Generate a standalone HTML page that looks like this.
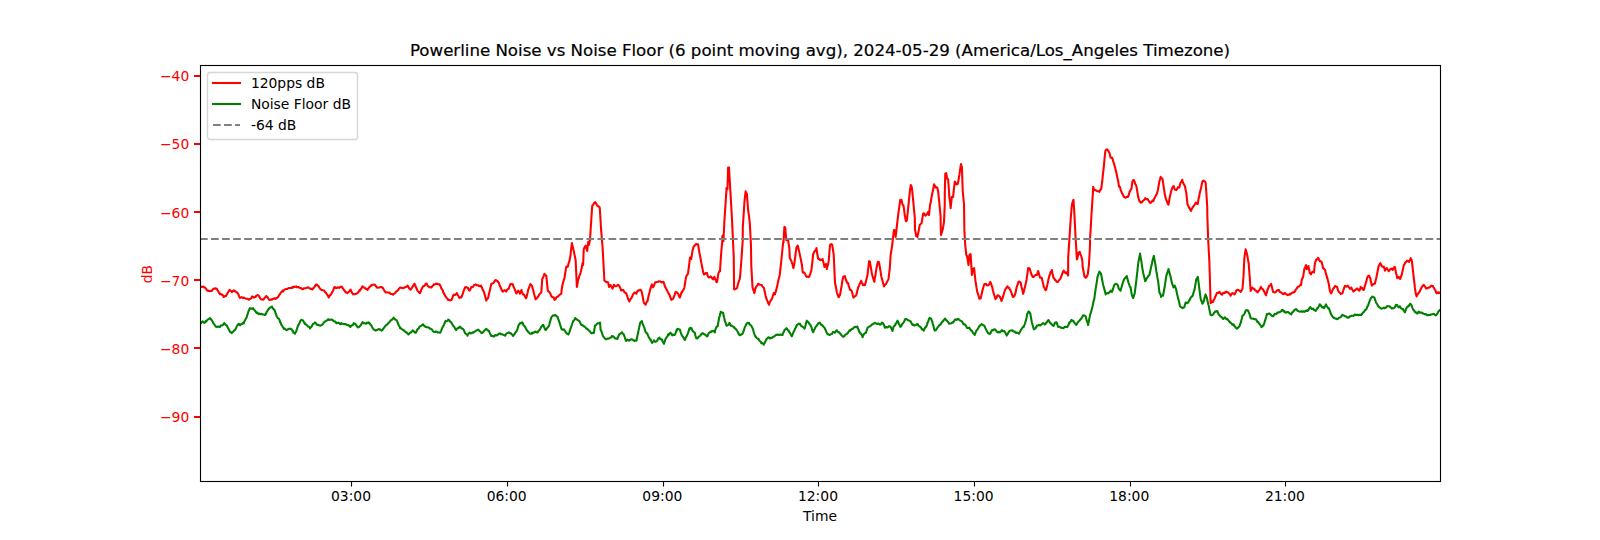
<!DOCTYPE html>
<html lang="en">
<head>
<meta charset="utf-8">
<title>Powerline Noise vs Noise Floor</title>
<style>
html,body{margin:0;padding:0;background:#fff;}
body{width:1600px;height:540px;overflow:hidden;}
svg{display:block;}
svg text{font-family:"DejaVu Sans", "Liberation Sans", sans-serif;font-size:13.889px;fill:#000;}
.t{font-size:16.667px;letter-spacing:-0.022px;stroke:#000;stroke-width:0.2px;}
.r{fill:#f00;}
.m{text-anchor:middle;}
.e{text-anchor:end;}
</style>
</head>
<body>
<svg width="1600" height="540" viewBox="0 0 1600 540">
<rect x="0" y="0" width="1600" height="540" fill="#fff"/>
<defs><clipPath id="ax"><rect x="200" y="64.8" width="1240" height="415.8"/></clipPath></defs>
<g stroke="#000" stroke-width="1.111" fill="none">
<line x1="351.5" y1="481" x2="351.5" y2="486.5"/>
<line x1="507.5" y1="481" x2="507.5" y2="486.5"/>
<line x1="663.5" y1="481" x2="663.5" y2="486.5"/>
<line x1="818.5" y1="481" x2="818.5" y2="486.5"/>
<line x1="974.5" y1="481" x2="974.5" y2="486.5"/>
<line x1="1130.5" y1="481" x2="1130.5" y2="486.5"/>
<line x1="1285.5" y1="481" x2="1285.5" y2="486.5"/>
</g>
<g class="m">
<text class="m" x="351.02" y="500.88">03:00</text>
<text class="m" x="506.67" y="500.88">06:00</text>
<text class="m" x="662.32" y="500.88">09:00</text>
<text class="m" x="817.97" y="500.88">12:00</text>
<text class="m" x="973.62" y="500.88">15:00</text>
<text class="m" x="1129.27" y="500.88">18:00</text>
<text class="m" x="1284.92" y="500.88">21:00</text>
<text class="m" x="820" y="520.60">Time</text>
</g>
<g fill="#f00">
<rect x="194" y="75" width="6" height="2"/>
<rect x="194" y="143" width="6" height="2"/>
<rect x="194" y="211" width="6" height="2"/>
<rect x="194" y="279" width="6" height="2"/>
<rect x="194" y="347" width="6" height="2"/>
<rect x="194" y="416" width="6" height="2"/>
</g>
<text class="r e" x="189.28" y="81.00">−40</text>
<text class="r e" x="189.28" y="149.00">−50</text>
<text class="r e" x="189.28" y="218.00">−60</text>
<text class="r e" x="189.28" y="286.00">−70</text>
<text class="r e" x="189.28" y="354.00">−80</text>
<text class="r e" x="189.28" y="422.00">−90</text>
<text class="r m" x="151.83" y="274.10" transform="rotate(-90 151.83 274.10)">dB</text>
<g clip-path="url(#ax)" fill="none" stroke-width="2.083" stroke-linejoin="round" stroke-linecap="square">
<path stroke="#f00" d="M200 286.86 L200.05 286.50 L200.86 286.63 L201.25 286.88 L201.73 287.01 L202.59 286.76 L203.46 286.64 L203.75 286.88 L204.32 287.42 L205.19 287.71 L206.05 288.83 L206.92 290.34 L207.78 290.67 L208.12 291 L208.65 290.76 L209.51 291.10 L210.38 291.07 L211.24 290.85 L211.88 291 L212.11 290.19 L212.97 289.27 L213.75 288.50 L213.84 288.71 L214.70 288.69 L215.56 288.27 L216.43 288.75 L216.88 288.75 L217.29 290.02 L218.16 290.93 L219.02 293 L219.38 293.12 L219.89 294.15 L220.75 293.86 L221.62 294.50 L222.48 294.99 L223.35 296.16 L223.75 296.88 L224.21 296.83 L225.08 295.87 L225.94 295.88 L226.25 295.62 L226.81 294.56 L227.67 293.02 L228.54 291.51 L229.38 290.62 L229.40 289.82 L230.26 290.29 L231.13 291.14 L231.88 291.25 L231.99 292.15 L232.86 291.15 L233.72 290.42 L233.75 290.25 L234.59 290.99 L235.45 291.47 L236.25 291.88 L236.32 291.93 L237.18 292.64 L238.05 293.71 L238.91 295.71 L239.38 296.88 L239.78 297.71 L240.64 297.80 L241.51 297.10 L242.37 297.72 L243.24 298.06 L243.75 297.50 L244.10 297.76 L244.97 298.15 L245.83 298.47 L246.69 298.69 L247.56 298.70 L248.42 299.33 L248.75 299.75 L249.29 299.44 L250.15 298.95 L251.02 298.18 L251.88 297.25 L251.88 296.57 L252.75 296.57 L253.61 297.55 L254.48 297.38 L255.34 296.53 L255.62 296.88 L256.21 295.88 L257.07 295.27 L257.94 294.97 L258.12 295.25 L258.80 295.70 L259.67 297.38 L260.53 298.79 L261.25 299.38 L261.39 299.29 L262.26 299.58 L263.12 299.78 L263.75 298.75 L263.99 298.87 L264.85 297.57 L265.72 296.90 L266.25 296 L266.58 296.61 L267.45 297.03 L268.31 298.45 L268.75 299.38 L269.18 299.89 L270.04 299.92 L270.91 299.48 L271.77 299.41 L271.88 299.75 L272.64 299.12 L273.50 298.64 L274.37 298.75 L275 298.12 L275.23 298.91 L276.09 298.50 L276.96 298 L277.50 297.50 L277.82 297.42 L278.69 296.06 L279.55 294.65 L280.42 293.26 L281.28 292.08 L282.15 291.76 L282.50 290.62 L283.01 291.36 L283.88 290.27 L284.74 289.54 L285.61 289.06 L286.47 288.99 L287.34 289.04 L287.50 288.75 L288.20 288.21 L289.07 287.96 L289.93 287.94 L290.79 287.93 L291.66 287.87 L292.50 287.12 L292.52 287.68 L293.39 287.35 L294.25 286.61 L295.12 286.69 L295.98 286.95 L296.25 286.50 L296.85 287.22 L297.71 286.89 L298.58 287.12 L299.44 287.84 L300.31 288 L301.17 288.15 L302.04 289.14 L302.50 289 L302.90 289.28 L303.77 288.24 L304.63 288.28 L305.50 288.30 L306.36 287.82 L307.22 287.74 L308.09 287.64 L308.12 287.25 L308.95 287.91 L309.82 288.47 L310.68 288.86 L311.55 288.81 L312.41 289.04 L312.50 289.38 L313.28 288.21 L314.14 287.38 L315.01 286.22 L315.87 284.61 L316.50 284.75 L316.74 284.50 L317.60 285.61 L318.47 285.98 L319.33 287.45 L320.20 288.79 L320.62 289.38 L321.06 289.56 L321.92 290.11 L322.79 290.12 L323.65 290.40 L324.52 291.08 L325 291.88 L325.38 292.22 L326.25 293.42 L327.11 294.72 L327.98 295.80 L328.75 297.50 L328.84 296.92 L329.71 295.70 L330.57 294.48 L330.62 295 L331.44 293.45 L332.30 292.01 L333.17 290.50 L334.03 287.90 L334.38 287.12 L334.90 286.95 L335.76 287.87 L336.62 288.04 L337.49 287.51 L337.50 287.50 L338.35 287.22 L339.22 287.93 L340.08 287.24 L340.95 286.70 L341.81 287.36 L341.88 286.88 L342.68 288.20 L343.54 289.34 L344.41 290.53 L345.27 291.41 L345.62 292.50 L346.14 292.19 L347 292.77 L347.50 293.12 L347.87 292.76 L348.73 292.05 L349.60 290.87 L350.46 289.61 L350.62 289.75 L351.32 291.29 L352.19 293.10 L353.05 294.02 L353.12 294.38 L353.92 294.06 L354.78 294.18 L355.62 294 L355.65 293.95 L356.51 293.52 L357.38 293.10 L358.24 292.38 L359.11 290.80 L359.97 289.69 L360 290.62 L360.84 288.97 L361.70 287.79 L362.50 286.25 L362.57 286.56 L363.43 287.37 L364.30 287.46 L365.16 288.34 L366.03 288.98 L366.89 288.69 L367.50 290 L367.75 289.65 L368.62 288.48 L369.48 286.84 L370.35 286.48 L370.62 285.62 L371.21 285.78 L372.08 284.76 L372.94 284.78 L373.75 284.75 L373.81 284.67 L374.67 284.60 L375.54 285.55 L376.40 286.82 L377.27 287.65 L377.50 287.50 L378.13 287.83 L379 287.61 L379.86 287.32 L380.73 287.11 L381.59 287.07 L382.45 287.58 L382.50 287.50 L383.32 288.90 L384.18 290.25 L385.05 291.55 L385.62 292.50 L385.91 292.15 L386.78 292.34 L387.64 292.45 L388.51 292.62 L389.37 292.73 L389.38 292.50 L390.24 293.59 L391.10 293.99 L391.97 293.92 L392.83 294.20 L393.12 294.75 L393.70 293.91 L394.56 293.61 L395.43 292.56 L396.29 291.53 L397.15 291.15 L397.50 290.62 L398.02 290.15 L398.88 288.70 L399.75 287.95 L400 287.50 L400.61 287.82 L401.48 287.65 L402.34 287.97 L403.21 288.19 L404.07 287.74 L404.94 287.24 L405 287.50 L405.80 286.95 L406.67 286.54 L407.50 286 L407.53 285.43 L408.40 286.89 L409.26 288.50 L410.13 289.38 L410.62 289.75 L410.99 289.06 L411.85 287.90 L412.50 286.88 L412.72 286.75 L413.58 285.01 L414.38 284 L414.45 283.71 L415.31 285.52 L416.18 287.71 L417.04 289.53 L417.50 290.62 L417.91 291.11 L418.77 292.05 L419.64 293.07 L420 293.12 L420.50 292.17 L421.37 289.68 L422.23 287.91 L423.10 286.49 L423.12 286.25 L423.96 286.07 L424.83 285.36 L425.69 283.71 L426.25 283.50 L426.56 283.45 L427.42 285.45 L428.28 286.39 L429.15 286.84 L429.38 287.25 L430.01 287.27 L430.88 287.39 L431.25 287.50 L431.74 286.92 L432.61 285.99 L433.47 285.13 L433.75 284.38 L434.34 284.77 L435.20 283.90 L436.07 283.69 L436.88 283.50 L436.93 283.99 L437.80 284.13 L438.66 284.20 L439.53 284.17 L440 285.25 L440.39 285.74 L441.26 288.26 L442.12 289.36 L442.98 291.02 L443.12 292.50 L443.85 293 L444.71 295.04 L445.58 296.38 L446.44 297.59 L447.31 298.59 L448.12 300 L448.17 299.27 L449.04 299.86 L449.90 300.41 L450.77 300.14 L451.25 300 L451.63 299.57 L452.50 297.48 L453.36 295.16 L453.75 294.75 L454.23 294.68 L455.09 294.90 L455.96 294.15 L456.82 293.65 L456.88 293.12 L457.68 294.98 L458.55 296.23 L459.38 297.88 L459.41 297.91 L460.28 297.17 L461.14 297.13 L461.25 297.50 L462.01 295.78 L462.87 293.30 L463.74 290.64 L464.60 288.73 L465 287.25 L465.47 287.52 L466.33 287.07 L467.20 287.67 L468.06 288.17 L468.12 288.75 L468.93 290 L469.38 290.62 L469.79 290.49 L470.66 288.54 L471.52 286.97 L471.88 286.88 L472.38 287.20 L473.25 286.63 L474.11 284.97 L474.98 284.67 L475.62 284.38 L475.84 284.77 L476.71 285.19 L477.57 285.18 L478.44 285.22 L478.75 286 L479.30 285.89 L480.17 286.30 L481.03 285.72 L481.25 286.25 L481.90 287.40 L482.76 289.85 L483.63 291.16 L483.75 291.25 L484.49 293.88 L485.36 297.26 L486.22 300.38 L486.25 300.62 L487.09 298.91 L487.95 298.05 L488.12 298.12 L488.81 294.76 L489.68 290.98 L490.54 287.17 L491.25 284.38 L491.41 283.78 L492.27 283.43 L493.14 283.25 L494 282.23 L494.87 280.54 L495.62 280.62 L495.73 280.08 L496.60 280.68 L497.46 281.22 L498.33 282.20 L498.75 282.50 L499.19 283.91 L500.06 286.36 L500.92 287.98 L501.79 290.35 L501.88 290 L502.65 291.64 L503.51 291.09 L504.38 290.12 L505.24 290.45 L506.11 291.45 L506.25 291.50 L506.97 290.04 L507.84 289.09 L508.70 288.76 L508.75 288.75 L509.57 286.28 L510.43 284.22 L510.62 283.75 L511.30 284.32 L512.16 284.11 L512.50 284 L513.03 285.26 L513.89 287.40 L514.76 289.29 L515.62 291.70 L516.25 293.50 L516.49 293.40 L517.35 292.17 L518.12 291.25 L518.21 290.54 L519.08 292.04 L519.94 293.38 L520 293.75 L520.81 291.29 L521.50 290 L521.67 291.03 L522.54 293.32 L523.12 294.38 L523.40 294.35 L524.27 294.96 L525.13 296.70 L526 298.16 L526.25 298.12 L526.86 295.63 L527.73 292.16 L528.12 290 L528.59 289.03 L529.46 286.37 L530.25 284.38 L530.32 284.12 L531.19 284.74 L532.05 286.01 L532.50 288.12 L532.91 289.15 L533.78 292.66 L534.64 295.91 L535.51 299.04 L535.62 299.38 L536.37 298.49 L537.24 297.72 L538.10 296.37 L538.75 295.62 L538.97 295 L539.83 293.71 L540.70 293 L541.25 292.50 L541.30 292.50 L541.56 289.01 L542.25 278.75 L542.43 278.49 L543.29 276.90 L544.16 275.04 L544.38 273.75 L545.02 274.70 L545.89 275.48 L546.25 275.62 L546.75 280.44 L547.62 288.98 L547.75 290.62 L548.48 291.61 L549.34 291.96 L550 293.12 L550.21 293.46 L551.07 295.46 L551.88 296.88 L551.94 296.89 L552.80 297.26 L553.67 297.64 L553.75 297.50 L554.53 299.95 L554.75 299.75 L555.40 299.23 L556.26 297.49 L557.13 296.81 L557.99 296.62 L558.75 295.62 L558.86 295.69 L559.72 294.60 L560.59 294.21 L561.25 293.75 L561.45 291.67 L562.32 285.28 L562.50 285 L563.18 282.13 L564.04 279.53 L564.38 278.75 L564.91 275.23 L565.77 269.34 L566.25 266.88 L566.64 266.44 L567.50 266.33 L567.75 266.88 L568.37 264.30 L569.23 261.54 L569.38 261.25 L570.10 257.32 L570.38 256.25 L570.96 250.79 L571.83 243.60 L571.88 243.12 L572.69 246.63 L573.56 249.97 L573.75 250.62 L574.42 254.28 L575.29 258.21 L575.62 260 L576.15 271.23 L576.88 286.88 L577.02 286.38 L577.88 281.54 L578.12 280 L578.74 278.12 L579.61 275.30 L580.47 273.06 L580.62 272.50 L581.34 269.81 L582.20 265.01 L582.50 263.12 L583.07 264.74 L583.12 265 L583.75 248.75 L583.93 248.49 L584.80 247.13 L585.62 245.62 L585.66 246.11 L586.53 249.05 L587.25 251 L587.39 249.11 L588.12 242.50 L588.26 241.87 L589 245 L589.12 243.92 L589.99 239.74 L590 240 L590.62 230 L590.85 226.37 L591.72 213.24 L592.25 205.62 L592.58 205.17 L593.44 204.69 L594 203.12 L594.31 202.85 L595.17 202.19 L596 203.12 L596.04 203.20 L596.90 205.03 L597.25 205.62 L597.77 206.04 L598.63 206.50 L599.50 207.19 L599.75 208.12 L600.36 217.50 L601.23 231.44 L601.25 231.25 L602.09 241.70 L602.50 246.25 L602.96 253.89 L603.12 257 L603.82 269.94 L604.38 280.62 L604.69 280.79 L605.55 281.50 L606.25 281.88 L606.42 282.13 L607.28 282.07 L608.12 282.50 L608.15 282.47 L609 286.88 L609.01 286.57 L609.87 285.76 L610.62 285 L610.74 285.82 L611.60 286.96 L612.47 288.46 L612.50 288.75 L613.33 286.36 L614 284.75 L614.20 284.96 L615.06 286.32 L615.62 286.25 L615.93 286.27 L616.79 285.78 L617.66 285.20 L618.12 284.75 L618.52 285.01 L619.39 286.24 L620 287.50 L620.25 287.92 L621.12 290.15 L621.25 290.62 L621.98 290.33 L622.85 289.96 L623.12 290 L623.71 290.75 L624.57 292.27 L625.44 292.93 L626.25 293.75 L626.30 293.31 L627.17 295.82 L628.03 298.73 L628.90 300.61 L629.38 301.50 L629.76 300.35 L630.63 298.88 L631.49 298.11 L631.88 296.88 L632.36 295.93 L633.22 294.10 L634.09 293.05 L634.38 292.50 L634.95 292.54 L635.82 293.35 L636.25 293.75 L636.68 292.71 L637.55 291.03 L638.12 290.25 L638.41 290.70 L639.27 290.58 L640.14 289.84 L640.62 290 L641 290.16 L641.87 292.20 L641.88 293.12 L642.73 296.49 L643.60 301.67 L643.75 302.50 L644.46 303.76 L645.33 304.01 L645.62 304.75 L646.19 302.99 L647.06 301.37 L647.50 301.25 L647.92 298.93 L648.79 294.98 L649.65 291.69 L650 290 L650.52 288.73 L651.38 285.40 L651.88 284.38 L652.25 284.97 L653.11 287.37 L653.12 286.88 L653.97 285.72 L654.84 283.12 L655 282.50 L655.70 282.20 L656.57 282.10 L657.43 281.89 L658.30 281.63 L658.75 281.25 L659.16 281.25 L660.03 281.23 L660.89 282 L661.25 282.50 L661.76 282.06 L662.62 282.17 L663.49 282.30 L663.50 281.88 L664.35 284.42 L665 286.88 L665.22 286.86 L666.08 288.57 L666.95 290.19 L667.81 292.18 L668.12 292.50 L668.68 293.63 L669.54 294.80 L670.40 297.33 L671.25 299.75 L671.27 299.79 L672.13 299.27 L673 299 L673.12 298.75 L673.86 296.80 L674.73 294.53 L675.59 291.94 L675.62 291.88 L676.46 292.18 L677.32 292.78 L677.50 293.12 L678.19 293.88 L679.05 295.99 L679.75 297.50 L679.92 297.46 L680.78 294.67 L681.65 292.13 L681.88 292.50 L682.51 290.98 L683.38 289.90 L684.24 287.89 L684.38 287.50 L685.10 282.87 L685.97 277.46 L686.25 276.25 L686.83 275.41 L687.70 274.24 L688.12 272.50 L688.56 269.40 L689.43 262.54 L690 257.50 L690.29 258.27 L691.16 259.12 L691.25 258.75 L692.02 253.81 L692.50 250.62 L692.89 249.39 L693.75 246.25 L693.75 246.49 L694.62 245.79 L695.48 244.69 L695.62 244.38 L696.35 244 L697.21 244.41 L698.08 244.95 L698.12 244.38 L698.94 250.10 L699.38 252.50 L699.80 254.62 L700.67 259.16 L701.25 262.50 L701.53 263.62 L702.40 268.20 L703.26 272.59 L703.75 274 L704.13 274.49 L704.99 273.97 L705.86 273.08 L706.72 272.99 L706.88 272.75 L707.59 275.39 L708.45 277.41 L708.75 277.50 L709.32 277.29 L710.18 276.86 L710.62 276.25 L711.05 276.99 L711.91 277.97 L712.78 278.95 L713.12 279.38 L713.64 277.85 L714.38 276.88 L714.50 277.03 L715.37 279.28 L716.23 281.54 L716.88 282.25 L717.10 281.47 L717.96 276.06 L718.50 273.12 L718.83 272.38 L719.69 270.74 L720 271.25 L720.56 261.80 L721.25 252.50 L721.42 250.17 L722.25 241.25 L722.29 237.31 L722.30 236.25 L722.75 235.62 L723.15 239.23 L723.38 241.25 L724.02 229.17 L724.38 221.25 L724.88 213.82 L725.75 200.63 L726.25 192.50 L726.30 193.75 L726.50 188.12 L726.61 188.75 L727.48 189.14 L727.50 188.75 L728.12 167.50 L728.34 167.77 L729 167.50 L729.21 171.31 L730 185 L730.07 186.19 L730.93 200.85 L731.80 215.75 L731.88 217 L732.66 233.65 L733.53 252.43 L733.75 257 L734.12 289.38 L734.39 289.49 L735.26 288.89 L736.12 288.66 L736.88 288.12 L736.99 288.20 L737.85 284.63 L738.72 281.62 L739.58 279.29 L740 277.50 L740.45 271.90 L741.31 261 L741.50 258.75 L742.18 248.34 L742.75 240 L742.80 227.50 L743.04 223.72 L743.91 210.31 L744.38 202.50 L744.77 198.85 L745.62 191.25 L745.63 191.60 L746.50 193.31 L746.88 193.75 L747.36 200.24 L748.12 210 L748.23 210.66 L749.09 216.97 L749.75 222.50 L749.96 225.87 L750.82 242.41 L751 246.25 L751.25 265 L751.69 272.90 L752.50 286.88 L752.55 287.42 L753.42 290.26 L754.28 292.77 L754.38 293.12 L755.15 289.47 L755.62 288.12 L756.01 287.05 L756.88 285.97 L757.74 284.70 L758.12 283.75 L758.61 284.04 L759.47 284.47 L760.33 284.77 L761.20 284.93 L761.88 285.25 L762.06 285.89 L762.93 286.89 L763.79 287.73 L764 288.12 L764.66 291.58 L765.52 295.40 L766.25 298.12 L766.39 298.70 L767.25 300.57 L768.12 303.02 L768.98 304.62 L769 304.75 L769.85 301.96 L770.71 300.49 L771.25 300 L771.58 299.27 L772.44 297.31 L773.31 294.37 L773.75 293.12 L774.17 293.09 L775 294.38 L775.03 293.97 L775.90 291.14 L776.76 287.59 L777.50 285 L777.63 283.78 L778.49 279.81 L779.36 276.48 L779.75 275 L780.22 270.70 L781.09 262.52 L781.88 255 L781.95 254.26 L782.82 245.73 L783.50 240 L783.55 242.50 L783.68 239.49 L784.38 226.88 L784.55 226.83 L785.25 228.12 L785.41 229.75 L786.25 240 L786.28 240.16 L787.14 240.23 L788.01 240.08 L788.12 240.62 L788.87 245.46 L789.38 248.75 L789.74 257.55 L789.75 257.50 L790.60 259.66 L791.46 260.96 L791.88 263.12 L792.33 263.62 L793.19 267.36 L793.50 268.12 L794.06 265.15 L794.92 259.36 L795 258.75 L795.79 252.45 L796.50 247.50 L796.65 246.95 L797.52 246.09 L797.75 245.62 L798.38 248.33 L799.25 251.90 L800 255.62 L800.11 255.87 L800.98 260.31 L801.84 264.45 L801.88 265 L802.71 271.77 L802.75 272.50 L803.57 272.59 L804.38 272.75 L804.44 272.64 L805.30 274.37 L806.16 276.20 L806.88 276.88 L807.03 276.69 L807.89 276.52 L808.76 277.06 L809.38 276.50 L809.62 275.75 L810.49 273.10 L811.35 270.34 L811.50 269.38 L812.22 263.19 L813.08 254.98 L813.12 254.38 L813.95 252.30 L814.81 251.11 L815 250.62 L815.68 250.50 L816.50 248.12 L816.54 249.22 L817.41 254.50 L818.12 258.75 L818.27 258.97 L819.14 258.89 L820 259.54 L820 260 L820.86 260.16 L821.73 259.46 L822.50 259.38 L822.59 259.05 L823.46 262.49 L824.32 266.13 L824.38 266.88 L825.19 265.73 L826 264 L826.05 264.19 L826.88 269 L826.92 268.32 L827.78 265.22 L828.65 261.45 L828.75 260.62 L829.51 250.86 L830 245.25 L830.38 244.45 L831.24 244.12 L832.11 244.65 L832.25 245 L832.97 249.81 L833.75 255 L833.84 256.97 L834.70 276.47 L835 282.50 L835.56 285.57 L836.43 289.77 L836.88 292.50 L837.29 293.64 L838.16 296.03 L838.75 297.25 L839.02 296.88 L839.89 294.79 L840 295 L840.75 290.56 L841.62 285.95 L842.48 280.16 L843.12 277.50 L843.35 276.46 L844.21 276.57 L845 276 L845.08 277.01 L845.94 279.78 L846.81 281.76 L846.88 282.50 L847.67 283.13 L848.12 283.12 L848.54 285.31 L849.40 287.77 L850 290 L850.26 289.78 L851.13 290.14 L851.88 291.25 L851.99 291.87 L852.86 295.55 L853.50 297.75 L853.72 297.29 L854.59 296.35 L855.45 296.11 L856.25 295 L856.32 295.02 L857.18 291.28 L858.05 288.08 L858.12 287.50 L858.91 285.92 L859.78 283.68 L860.64 281.90 L861.25 280.62 L861.51 281.93 L862.37 283.85 L863.12 285.25 L863.24 284.96 L864.10 284.59 L864.97 284.92 L865 285.25 L865.83 281.82 L866.69 278.19 L867.50 275 L867.56 274.47 L868.42 266.75 L869.12 261.25 L869.29 261.16 L870 261.88 L870.15 263.15 L871.02 268.37 L871.88 273.75 L871.88 273.82 L872.75 276.93 L873.61 279.69 L874.38 281.88 L874.48 280.96 L875.34 275.52 L876.21 269.88 L876.25 269.38 L877.07 265.27 L877.75 262.50 L877.94 261.82 L878.80 262.04 L879 262.50 L879.67 266.26 L880.53 271.38 L881.25 276.25 L881.39 276.74 L882.26 279.97 L883.12 283.21 L883.99 286.35 L884 286 L884.85 285.12 L885.72 284.06 L886.25 283.75 L886.58 282.76 L887.45 281.13 L888.31 279.37 L888.50 278.75 L889.18 273.22 L889.75 268.75 L890.04 264.29 L890.62 255 L890.91 253.55 L891.77 247.84 L892.25 245 L892.64 240.94 L893.50 233.75 L893.50 233.43 L894 230 L894.37 230.43 L895 230.62 L895.23 233.01 L895.62 236.88 L896.09 232.77 L896.88 226.25 L896.96 225.16 L897.82 217.90 L898.50 212.50 L898.69 211.15 L899.55 205 L900.25 200 L900.42 199.92 L901.28 199.82 L901.50 200 L902.15 202.80 L902.50 204.38 L903.01 205.19 L903.50 205.62 L903.88 208.30 L904.74 214.94 L904.75 215 L905.61 219.74 L906 221.25 L906.47 221.05 L906.88 220 L907.34 216.05 L908.12 208.75 L908.20 207.90 L909.07 198.94 L909.93 190.58 L910 190 L910.79 185.05 L910.88 185 L911.66 186.87 L912 188.75 L912.52 193.78 L913.12 200 L913.39 202.92 L914.25 212.06 L914.75 217 L914.80 217.50 L915 230 L915.12 230.31 L915.98 234.21 L916.25 236.25 L916.85 235.91 L917.50 236.88 L917.71 235.57 L918.58 231.24 L919.44 226.58 L919.75 225 L920.31 224.26 L921.17 223.52 L921.50 223.50 L922.04 220.52 L922.90 215.06 L923.12 213.75 L923.77 213.31 L924.38 213.50 L924.63 214.35 L925.50 215.71 L925.62 215.25 L926.36 214.76 L926.88 214.38 L927.22 213.74 L928.09 211.92 L928.12 211.88 L928.95 214.61 L929 215 L929.82 207.28 L930 205 L930.68 202.61 L931.50 197.50 L931.55 197.31 L932.41 192.64 L932.50 192.50 L933.28 189.07 L934 184.38 L934.14 185.01 L935.01 185.84 L935.62 186.88 L935.87 187.49 L936.74 187.60 L937.25 187.50 L937.60 188.99 L938.12 191.25 L938.47 194.77 L939.33 202.72 L939.38 203.75 L940.20 211.98 L940.62 217 L940.67 223.75 L941 235 L941.06 234.85 L941.92 232.14 L942.50 230 L942.79 229.21 L943.65 224.09 L944 221.25 L944.52 210.10 L944.75 205 L944.80 193.75 L945.25 173.75 L945.38 173.69 L946.25 173.32 L946.25 173.12 L947.11 178.34 L947.25 178.75 L947.98 179.15 L948.12 179.38 L948.84 189 L949.38 197.50 L949.71 199.37 L950.57 207.25 L950.62 208.12 L951.44 201 L951.88 196.88 L952.30 196.68 L953.12 196.88 L953.17 196.09 L954.03 188.13 L954.75 181.88 L954.90 181.64 L955.76 182.95 L956.50 184.38 L956.62 184.07 L957.49 184.15 L957.75 183.75 L958.35 181.01 L959.22 175.69 L959.38 175 L960.08 169.79 L960.95 164.53 L961 164 L961.81 167.16 L961.88 166.88 L962.68 189.46 L962.75 191.25 L963.54 199.48 L964 203.75 L964.38 230 L964.41 231.24 L965.25 245 L965.27 245.33 L966.14 253.28 L966.25 255 L967 256.14 L967.25 257.50 L967.87 260.83 L968.50 265 L968.73 262.40 L969.38 255 L969.60 254.58 L970.46 254.03 L970.62 254.38 L971.32 265.90 L971.88 275 L972.19 273.59 L973.05 268.90 L973.12 268.75 L973.92 268.47 L974.12 268.12 L974.78 274.50 L975.62 282.50 L975.65 281.94 L976.51 287.63 L977.38 292.51 L977.50 292.50 L978.24 294.70 L979.11 297.48 L979.38 298.75 L979.97 298.37 L980.62 298.50 L980.84 297.73 L981.70 294.08 L982.50 290 L982.57 290.16 L983.43 286.98 L984 285 L984.30 284.29 L985.16 283.92 L986 283.75 L986.03 284.31 L986.89 285.41 L987.50 285.25 L987.75 285.42 L988.62 284.99 L988.75 284.75 L989.48 283.47 L990.25 281.88 L990.35 282.01 L991.21 284.09 L991.88 286.25 L992.08 286.60 L992.94 290.47 L993.75 293.75 L993.81 293.89 L994.67 296.26 L995.54 299.07 L995.62 298.50 L996.40 298.11 L997.27 295.96 L997.50 295.25 L998.13 295.40 L999 295.92 L999.75 296.88 L999.86 296.65 L1000.73 298.89 L1001.50 301 L1001.59 300.87 L1002.45 298.39 L1003.12 296.25 L1003.32 295.71 L1004.18 292.82 L1005 290 L1005.05 289.93 L1005.91 288.37 L1006.78 287.62 L1007.50 286.25 L1007.64 287.26 L1008.51 287.63 L1009.37 288.21 L1009.38 288.75 L1010.24 289.92 L1011.10 291.81 L1011.25 292.25 L1011.97 294.40 L1012.83 296.83 L1013.12 296.88 L1013.70 296.73 L1014.56 295.60 L1015 294.38 L1015.43 293.18 L1016.29 289.33 L1016.88 286.25 L1017.15 285.85 L1018.02 283.27 L1018.50 281.88 L1018.88 281.43 L1019.75 281.69 L1020.61 282.99 L1020.62 282.50 L1021.48 286.72 L1021.88 288.12 L1022.34 289.89 L1023.12 293.75 L1023.21 293.56 L1024.07 290.60 L1024.94 286.99 L1025 286.88 L1025.80 283.19 L1026.67 279.19 L1026.88 277.50 L1027.53 272.99 L1028.12 268.12 L1028.40 268.24 L1029.26 268.37 L1029.75 268.50 L1030.13 270.07 L1030.99 273.18 L1031.25 273.75 L1031.85 275.33 L1032.72 276.88 L1033.12 276.88 L1033.58 276.92 L1034.45 276.14 L1035.31 275.10 L1035.62 275 L1036.18 274.85 L1036.88 275 L1037.04 274.86 L1037.91 271.78 L1038.12 271 L1038.77 272.99 L1039.64 276.20 L1040 277.75 L1040.50 277.47 L1041.37 277.76 L1041.88 278.12 L1042.23 279.98 L1043.10 283.63 L1043.75 286.88 L1043.96 286.90 L1044.83 288.70 L1045.69 290.20 L1046 290 L1046.56 288.40 L1047.25 285 L1047.42 284.48 L1048.28 280.11 L1048.75 278.12 L1049.15 276.58 L1050.01 273.97 L1050.62 271.88 L1050.88 272.37 L1051.74 271.31 L1051.88 270 L1052.61 274.55 L1053.12 276.25 L1053.47 277.82 L1054.34 278.60 L1055 280 L1055.20 279.66 L1056.07 280.88 L1056.88 281.88 L1056.93 282.07 L1057.80 282.01 L1058.66 280.75 L1059.53 279.57 L1060 279.38 L1060.39 278.64 L1061.26 276.47 L1061.88 275 L1062.12 274.10 L1062.98 272.02 L1063.75 270.62 L1063.85 270.82 L1064.71 271.90 L1065.58 273.13 L1065.62 273.12 L1066.44 272.92 L1066.88 272.25 L1067.31 273.67 L1068.12 275.62 L1068.17 258.93 L1068.17 257.50 L1069.04 245.18 L1069.38 240 L1069.90 231.12 L1070.62 220 L1070.77 218.18 L1071.63 207.74 L1071.88 205 L1072.50 202.47 L1073.36 199.95 L1073.50 199.75 L1074.23 211.38 L1074.38 213.75 L1075.09 227.74 L1075.62 238.75 L1075.96 243.72 L1076.82 258.53 L1076.88 259.38 L1077.68 256.83 L1078.50 253.12 L1078.55 252.89 L1079.41 252.02 L1079.75 251.88 L1080.28 254.07 L1081.14 255.88 L1081.25 256.25 L1082.01 258.98 L1082.50 262 L1082.55 266.25 L1082.87 267.71 L1083.74 272.76 L1084.38 276.25 L1084.60 276.38 L1085.47 277.55 L1086 277.75 L1086.33 277.25 L1087.20 275.38 L1087.75 274.38 L1088.06 271.92 L1088.93 264.78 L1089 263.75 L1089.79 249.71 L1090 245 L1090.05 238.75 L1090.66 229.33 L1091.50 213.75 L1091.52 214.02 L1092.38 200.48 L1092.75 195 L1092.80 195 L1093.12 186.88 L1093.25 187.71 L1094.11 189.42 L1094.98 190.28 L1095 190 L1095.84 190.22 L1096.71 190.76 L1097.50 191.25 L1097.57 191.28 L1098.44 191.20 L1099.30 191.32 L1099.38 191.88 L1100.17 190.01 L1101.03 188.98 L1101.25 188.75 L1101.90 183.47 L1102.25 181.25 L1102.76 175.85 L1103.63 168.35 L1103.75 167.50 L1104.49 159.39 L1105.25 151.88 L1105.36 150.95 L1106.22 149.61 L1106.50 149.75 L1107.09 149.40 L1107.95 150.30 L1108.12 150.62 L1108.81 151.84 L1109.68 153.55 L1109.75 153.75 L1110.54 157.65 L1110.62 157.50 L1111.41 157.72 L1112.25 158.12 L1112.27 157.86 L1113.14 160.96 L1113.75 163.12 L1114 163.56 L1114.87 166.73 L1115.73 170.11 L1116 171.25 L1116.60 173.95 L1117.46 178.03 L1117.75 178.75 L1118.33 182.30 L1119 186.50 L1119.19 186.20 L1120 187.25 L1120.06 187.46 L1120.92 190.64 L1121.79 192.47 L1121.88 193.12 L1122.65 194.07 L1123.51 196.19 L1123.75 196.25 L1124.38 197.16 L1125.24 197.77 L1125.62 197.75 L1126.11 197.14 L1126.97 196.84 L1127.84 197 L1128.12 196.50 L1128.70 195.24 L1129.57 191.77 L1130 191.25 L1130.43 190.03 L1131.30 188.81 L1131.50 188.75 L1132.16 183.02 L1132.50 181.25 L1133.03 180.35 L1133.75 180.62 L1133.89 180.09 L1134.76 182.22 L1135 183.75 L1135.62 184.38 L1136.49 186.37 L1136.50 186.88 L1137.35 191.91 L1138.12 196.88 L1138.21 197.07 L1139.08 199.68 L1139.38 201.25 L1139.94 201.19 L1140.81 202.59 L1141 202.50 L1141.67 202.48 L1142.54 201.46 L1143.12 200.62 L1143.40 200.52 L1144.27 199.73 L1145.13 198.93 L1145.25 198.12 L1146 199.32 L1146.86 199.16 L1147.50 199 L1147.73 199.13 L1148.59 200.81 L1149.38 201.50 L1149.46 202.44 L1150.32 202.93 L1151.19 202.23 L1151.25 202.50 L1152.05 201.21 L1152.91 200.36 L1153.50 201 L1153.78 199.47 L1154.64 198.03 L1154.75 197.50 L1155.51 196.19 L1156.37 194.61 L1156.88 193.75 L1157.24 192.64 L1158.10 189.14 L1158.12 188.75 L1158.97 183.91 L1159.38 181.25 L1159.83 180.12 L1160.62 176.88 L1160.70 177.22 L1161.56 178.06 L1162.43 178.85 L1162.50 178.75 L1163.29 184.06 L1164 189.38 L1164.16 190.10 L1165.02 195.30 L1165.62 198.12 L1165.89 198.95 L1166.75 201.11 L1166.88 201.25 L1167.62 203.33 L1168.48 204.59 L1168.50 204.75 L1169.34 199.54 L1170 196.25 L1170.21 195.24 L1171.07 191.55 L1171.88 188.75 L1171.94 188.47 L1172.80 187.02 L1173.50 186 L1173.67 186.07 L1174.53 188.73 L1174.75 189.38 L1175.40 189.82 L1176.25 190 L1176.26 190.18 L1177.13 189.15 L1177.75 187.25 L1177.99 187.80 L1178.86 187.34 L1179.38 187.50 L1179.72 185.83 L1180.59 182.44 L1180.62 182.50 L1181.45 181.59 L1182.25 179.75 L1182.32 180.66 L1183.18 182.90 L1183.50 183.75 L1184.04 184.39 L1184.91 186.39 L1185 186.25 L1185.77 190.47 L1186.25 192.50 L1186.64 196.45 L1187.50 204.38 L1187.50 204.38 L1188.37 205.94 L1189.23 207.98 L1189.38 207.50 L1190.10 209.50 L1190.96 210.82 L1191 211 L1191.83 208.79 L1192.50 207.50 L1192.69 207.24 L1193.56 206.21 L1194.38 205 L1194.42 204.98 L1195.29 203.50 L1196 202.50 L1196.15 202.62 L1197.02 203.84 L1197.75 204 L1197.88 203.15 L1198.74 197.87 L1199.38 195.62 L1199.61 193.74 L1200.47 190.20 L1201.25 187.50 L1201.34 186.33 L1202.20 182.38 L1202.50 181.25 L1203.07 181.16 L1203.75 180.62 L1203.93 180.76 L1204.80 181.39 L1205.62 182.50 L1205.66 182.88 L1206.50 195 L1206.53 195.53 L1207.25 207 L1207.30 213.75 L1207.39 216.69 L1208.12 238.75 L1208.26 241.08 L1209.12 257.26 L1209.38 262 L1209.99 281.80 L1210 282.50 L1210.62 303.12 L1210.85 302.95 L1211.72 302.04 L1212.58 301.06 L1213.12 301.88 L1213.44 300.60 L1214.31 298.99 L1215 297.50 L1215.17 296.89 L1216.04 295.18 L1216.88 293.12 L1216.90 293.19 L1217.77 292.82 L1218.63 292.98 L1219.38 291.88 L1219.50 292.12 L1220.36 292.85 L1221.23 294.23 L1221.88 294 L1222.09 294.82 L1222.96 293.10 L1223.75 293.12 L1223.82 292.78 L1224.69 293.08 L1225.55 291.81 L1226.25 291.88 L1226.42 291.70 L1227.28 292.26 L1228.15 292.52 L1228.75 293.12 L1229.01 293.59 L1229.87 294.50 L1230.62 295.62 L1230.74 295.45 L1231.60 294.01 L1232.25 293.12 L1232.47 293.01 L1233.33 293.66 L1234.20 294.05 L1234.38 294.38 L1235.06 293.52 L1235.93 291.87 L1236.25 290.62 L1236.79 290.15 L1237.66 289.80 L1238.12 290 L1238.52 290.03 L1239.39 290.73 L1240.25 291.65 L1240.62 291.88 L1241.12 291.13 L1241.98 289.67 L1242.50 288.75 L1242.85 284.30 L1243.50 276.25 L1243.71 271.72 L1244.38 257.50 L1244.57 256.65 L1245.44 250.71 L1245.62 249.38 L1246.30 251.52 L1247.17 254.72 L1247.25 255 L1248.03 259.96 L1248.75 263.75 L1248.90 266.48 L1249.75 277.50 L1249.76 277.80 L1250.62 291 L1250.63 290.80 L1251.49 289.25 L1252.36 287.61 L1252.50 288.12 L1253.22 288.18 L1254.09 289.06 L1254.38 289 L1254.95 290.12 L1255.82 290.80 L1256.68 291.09 L1257.50 292.50 L1257.55 292.16 L1258.41 291.35 L1259.27 290.21 L1259.38 290 L1260.14 288.70 L1261 286.88 L1261 287.14 L1261.87 288.34 L1262.73 289.43 L1262.75 289 L1263.60 290.62 L1264.38 291.88 L1264.46 292.22 L1265.33 294 L1266 295.25 L1266.19 294.41 L1267.06 291.90 L1267.75 288.75 L1267.92 289.08 L1268.79 286.52 L1269.38 285.62 L1269.65 285.44 L1270.52 285.22 L1271.25 283.75 L1271.38 284.95 L1272.25 288.46 L1273.11 291.97 L1273.12 291.88 L1273.97 292.19 L1274.84 292.17 L1275 292.50 L1275.70 292.04 L1276.57 291.28 L1276.88 290.62 L1277.43 290.21 L1278.30 289.93 L1279 290 L1279.16 290.63 L1280.03 292.10 L1280.89 292.52 L1281 292.50 L1281.76 292.91 L1282.62 293.78 L1283.12 294 L1283.49 294.24 L1284.35 293.21 L1285 293.12 L1285.22 293.10 L1286.08 294.25 L1286.95 294.51 L1287.50 295.25 L1287.81 294.74 L1288.68 294.66 L1289.54 294.78 L1290 293.75 L1290.40 294.15 L1291.27 293.45 L1292.13 292.82 L1292.50 292.75 L1293 292.40 L1293.86 292.46 L1294.73 291.44 L1295 291.50 L1295.59 289.84 L1296.46 288.96 L1296.88 288.12 L1297.32 287.50 L1298.19 286.51 L1299.05 286.56 L1299.38 286.25 L1299.92 285.51 L1300.78 284.55 L1301 285 L1301.65 280.75 L1301.88 279.38 L1302.51 278.38 L1303.12 276.88 L1303.38 275.13 L1304.24 269.58 L1304.38 268.75 L1305.10 267.49 L1305.97 265.52 L1306 265 L1306.83 269.28 L1306.88 268.75 L1307.70 267.80 L1308.50 266 L1308.56 266.61 L1309.43 270.92 L1309.75 273.12 L1310.29 272.75 L1311 274.38 L1311.16 273.41 L1312.02 272.27 L1312.50 271.88 L1312.89 272.21 L1313.75 272.14 L1314 272.50 L1314.62 266.10 L1315 263.12 L1315.48 261.64 L1316.35 259.47 L1316.50 260 L1317.21 258.99 L1318.08 258.29 L1318.12 257.75 L1318.94 259.51 L1319.80 261.16 L1320 260.62 L1320.67 261.60 L1321.53 261.85 L1321.88 263.12 L1322.40 265 L1323.26 268.43 L1323.50 268.75 L1324.13 268.81 L1324.99 269.86 L1325 270 L1325.86 273.39 L1326.72 276.16 L1326.88 276.88 L1327.59 279.18 L1328.45 282.60 L1328.75 283.75 L1329.32 287.22 L1330 291.25 L1330.18 291.82 L1331.05 293.25 L1331.25 293.50 L1331.91 291.62 L1332.78 289.71 L1333.12 288.75 L1333.64 288.27 L1334.50 287.14 L1335 286 L1335.37 286.42 L1336.23 286.47 L1336.88 286.88 L1337.10 287.10 L1337.96 289.88 L1338.75 291.88 L1338.83 292 L1339.69 292.59 L1340.56 293.72 L1340.62 294 L1341.42 293.46 L1342.29 293.55 L1342.50 293.12 L1343.15 290.94 L1344.02 288.11 L1344.75 286.50 L1344.88 285.90 L1345.75 286.30 L1346.61 286.62 L1347.48 285.65 L1347.50 286.25 L1348.34 286.27 L1349.21 287.85 L1349.75 288.12 L1350.07 288.82 L1350.93 288.45 L1351.25 287.50 L1351.80 288.74 L1352.66 290.05 L1353.12 291.25 L1353.53 291.49 L1354.39 290.88 L1355.26 289.87 L1355.62 290 L1356.12 289.29 L1356.99 288.46 L1357.50 288.75 L1357.85 289.11 L1358.72 290.51 L1359.38 290.62 L1359.58 290.33 L1360.45 287.72 L1360.62 286.88 L1361.31 287.88 L1362.18 288.82 L1362.25 288.12 L1363.04 289.56 L1363.75 290 L1363.91 289.38 L1364.77 286.20 L1365.62 283.75 L1365.63 283.73 L1366.50 280.89 L1367.36 277.12 L1367.50 277.25 L1368.23 275.94 L1369 275.62 L1369.09 275.74 L1369.96 277.80 L1370.25 278.12 L1370.82 281.31 L1371.69 284.84 L1371.88 285.62 L1372.55 284.65 L1373.42 284.10 L1373.50 284.38 L1374.28 283.46 L1375 283.50 L1375.15 282.44 L1376.01 279.02 L1376.88 275 L1376.88 275.15 L1377.74 270.49 L1378.61 266.09 L1378.75 266.25 L1379.47 264.78 L1380.25 263.12 L1380.33 263.37 L1381.20 264.87 L1381.88 266.25 L1382.06 266.72 L1382.93 266.69 L1383.75 266.88 L1383.79 266.61 L1384.66 269.37 L1385 270.62 L1385.52 269.73 L1386.39 268.46 L1386.88 268.12 L1387.25 268.73 L1388.12 270.01 L1388.75 271.25 L1388.98 270.74 L1389.85 269.99 L1390.71 268.83 L1391.25 268.75 L1391.58 268.60 L1392.44 269.50 L1392.75 270 L1393.31 268.40 L1394.17 267.14 L1394.75 266.88 L1395.03 268.12 L1395.90 272.36 L1396 273.12 L1396.76 275.39 L1397.25 278.12 L1397.63 277.43 L1398.49 277.52 L1398.75 276.88 L1399.36 278.03 L1400.22 279.01 L1400.25 278.75 L1401.09 276.22 L1401.88 274.38 L1401.95 273.65 L1402.82 269.42 L1403.68 265.71 L1403.75 265 L1404.55 264.17 L1405.25 262.50 L1405.41 262.45 L1406.28 261.67 L1407.14 260.64 L1407.50 261.25 L1408.01 260.95 L1408.87 261.87 L1409 261.88 L1409.74 260.55 L1410.60 258.43 L1410.62 258.12 L1411.46 259.76 L1411.88 261.25 L1412.33 264.90 L1413.12 271.88 L1413.19 272.52 L1414.06 280.02 L1414.38 282.50 L1414.92 287.92 L1415.62 292.50 L1415.79 293.95 L1416.50 296 L1416.65 296.30 L1417.52 294.34 L1418.38 293.46 L1418.75 292.50 L1419.25 292.46 L1420.11 290.48 L1420.98 288.65 L1421.25 288.12 L1421.84 287.11 L1422.71 285.93 L1423.57 284.80 L1423.75 285 L1424.44 285.79 L1425.30 287.02 L1426.16 288.51 L1426.25 288.12 L1427.03 288.49 L1427.89 287.93 L1428.75 287.50 L1428.76 287.58 L1429.62 287.45 L1430.49 286.62 L1431.25 285.62 L1431.35 285.87 L1432.22 286.04 L1433.08 286 L1433.12 286.88 L1433.95 287.97 L1434.81 289.48 L1435.62 290.62 L1435.68 291.52 L1436.54 293.20 L1437.41 292.72 L1438.12 293.12 L1438.27 292.31 L1439.14 292.43 L1440 292.97 L1440 292.50"/>
<path stroke="#008000" d="M200 324.10 L200.05 323.75 L200.86 323.06 L201.25 323.12 L201.73 321.90 L202.59 321.38 L203.46 322.09 L204.32 322.86 L205.19 322.38 L205.62 321 L206.05 321.59 L206.92 320.63 L207.78 319.43 L208.65 319.11 L209.51 318.53 L209.75 318.12 L210.38 318.33 L211.24 319.57 L211.88 320.62 L212.11 320.64 L212.97 322.36 L213.84 323.88 L214.70 324.96 L215.56 326.32 L215.62 326.50 L216.43 326.91 L217.29 326.86 L218.16 326.49 L219.02 326.87 L219.89 326.50 L220 326.88 L220.75 325.60 L221.62 325.50 L222.48 325.25 L223.35 324.40 L224.21 323.11 L224.38 323.12 L225.08 324.06 L225.94 325.05 L226.81 325.50 L226.88 325.62 L227.67 327.28 L228.54 328.98 L229.40 330.50 L230 331.88 L230.26 332.03 L231.13 332.42 L231.88 333.12 L231.99 332.51 L232.86 331.87 L233.72 330.88 L234.59 330.16 L235 330 L235.45 329.16 L236.32 327.43 L237.18 325.61 L237.50 325 L238.05 324.57 L238.75 323.75 L238.91 324.53 L239.78 325.24 L240.62 325 L240.64 324.36 L241.51 323.98 L242.37 323.95 L243.24 322.66 L243.75 323.50 L244.10 322.20 L244.97 320.32 L245.83 318.74 L246.69 317.34 L246.88 316.25 L247.56 314.44 L248.42 311.49 L249.29 309.58 L250 308.12 L250.15 308.59 L251.02 308.52 L251.88 308.71 L252.75 308.84 L253.12 308.12 L253.61 309.17 L254.48 310.07 L255.34 311.10 L256.21 312.28 L256.88 313.12 L257.07 312.53 L257.94 313.45 L258.80 314.09 L259.67 313.51 L260.53 314.08 L261.25 313.75 L261.39 314.23 L262.26 314.18 L263.12 314.57 L263.99 314.45 L264.85 315.06 L265 315 L265.72 314.27 L266.58 312.08 L267.45 310.69 L268.12 309.38 L268.31 309.61 L269.18 308.39 L270.04 307.67 L270.91 307.29 L271.77 306.68 L271.88 306.50 L272.64 307.78 L273.50 309.10 L274.37 309.84 L274.38 310 L275.23 312 L276.09 314.46 L276.88 316.88 L276.96 316.88 L277.82 318.05 L278.69 318.55 L279.55 320.11 L280.42 322.82 L280.62 322.50 L281.28 324.78 L282.15 325.61 L283.01 327.56 L283.75 328.12 L283.88 328.88 L284.74 328.61 L285.61 329.44 L286.47 330.10 L286.88 330 L287.34 329.85 L288.20 329.20 L289.07 328.79 L289.93 328.83 L290 328.50 L290.79 329.12 L291.66 329.37 L292.52 330.92 L293.12 331.25 L293.39 332.75 L294.25 332.96 L295 333.75 L295.12 333.02 L295.98 331.80 L296.85 329.36 L297.71 326.46 L298.12 325.62 L298.58 324.94 L299.44 323.25 L300.31 320.98 L301 320 L301.17 319.75 L302.04 320.23 L302.90 320.36 L303.77 321.79 L304.63 323.68 L305 323.12 L305.50 324.23 L306.36 324.59 L307.22 325.60 L308.09 326.54 L308.95 326.80 L309.82 327.43 L310 328.50 L310.68 327.45 L311.55 326.65 L312.41 325.03 L313.28 323.68 L314.14 323.38 L315 322.50 L315.01 322.34 L315.87 323.26 L316.74 324.72 L317.50 325 L317.60 324.87 L318.47 324.80 L319.33 325.32 L320.20 325.69 L320.62 325.62 L321.06 325.37 L321.92 324.82 L322.79 324.16 L323.65 322.72 L323.75 322.50 L324.52 321.86 L325.38 321.25 L326.25 320.65 L327.11 320.44 L327.98 319.41 L328.12 320 L328.84 319.28 L329.71 319.89 L330.57 319.72 L331.25 319.75 L331.44 319.41 L332.30 319.90 L333.17 320.65 L334.03 321.38 L334.90 321.47 L335.76 321.97 L336.25 323.12 L336.62 323.17 L337.49 323 L338.35 322.58 L339.22 323.06 L340.08 324.13 L340.95 324.09 L341.25 323.12 L341.81 323.64 L342.68 323.69 L343.54 323.94 L344.41 324.32 L345.27 324.03 L346.14 324.18 L346.25 324.38 L347 325.08 L347.87 325.13 L348.73 325.34 L349.60 326.29 L350.46 326.84 L350.62 326.25 L351.32 325.83 L352.19 325.29 L353.05 324.74 L353.75 323.12 L353.92 323.53 L354.78 323.50 L355.65 324.34 L356.51 325.83 L357.38 326.68 L358.12 327.50 L358.24 327.26 L359.11 326.87 L359.97 326.12 L360.84 325.04 L361.70 323.40 L362.50 322.50 L362.57 322.11 L363.43 323.15 L364.30 323.13 L365.16 323.54 L366.03 323.64 L366.25 323.50 L366.89 322.67 L367.75 323.15 L368.62 322.35 L368.75 322.50 L369.48 323.14 L370.35 324.64 L371.21 325.29 L372.08 326.91 L372.94 328.48 L373.12 328.75 L373.81 329.40 L374.67 330.02 L375.54 330.41 L375.62 330.62 L376.40 329.95 L377.27 329.88 L378.13 329.24 L379 329.10 L379.86 329.66 L380 329.38 L380.73 330.02 L381.59 330.59 L382.45 329.97 L382.50 330 L383.32 328.65 L384.18 327.68 L385.05 326.20 L385.91 325.52 L386.25 325 L386.78 324.87 L387.64 323.98 L388.51 323.03 L389.37 322.16 L390.24 321.06 L391.10 320.02 L391.97 319.74 L392.83 318.79 L393.70 317.63 L393.75 318.12 L394.56 318.80 L395.43 319.67 L396.29 319.89 L396.88 320.62 L397.15 321.13 L398.02 323.84 L398.88 325.53 L399.75 326.77 L400 328.12 L400.61 328.11 L401.48 328.88 L402.34 329.32 L403.21 329.98 L403.75 330.62 L404.07 330.43 L404.94 331.25 L405.80 332.24 L406.67 332.59 L407.53 333.49 L408.12 334 L408.40 334.48 L409.26 333.53 L410.13 332.59 L410.99 332.50 L411.85 331.47 L412.50 331 L412.72 330.38 L413.58 331.14 L414.45 331.92 L415.31 332.70 L415.62 332.75 L416.18 332.09 L417.04 330 L417.91 328.89 L418.77 328.45 L419.38 326.88 L419.64 326.75 L420.50 326.06 L421.37 325.67 L422.23 324.89 L423.10 324.38 L423.12 324.75 L423.96 325.67 L424.83 326.35 L425.62 326.88 L425.69 326.57 L426.56 327.27 L427.42 327.31 L428.28 327.35 L429.15 327.86 L430.01 328.72 L430.62 328.50 L430.88 328.85 L431.74 329.28 L432.61 330.66 L433.47 331.52 L433.75 331.88 L434.34 332.07 L435.20 332.02 L436.07 331.36 L436.25 331.50 L436.93 331.81 L437.80 332.60 L438.66 332.39 L439.53 332.57 L440 332.75 L440.39 332.38 L441.26 330.31 L442.12 328.06 L442.98 326.54 L443.12 326.25 L443.85 325.23 L444.71 322.96 L445.58 320.89 L445.62 321.25 L446.44 321.28 L447.31 320.88 L448.12 320.25 L448.17 319.46 L449.04 320.12 L449.90 321.33 L450.77 322.19 L451.25 322.25 L451.63 322.93 L452.50 324.64 L453.36 325.96 L454.23 326.77 L455.09 328.58 L455.96 329.89 L456.25 330 L456.82 328.77 L457.68 328.15 L458.55 328.14 L459.41 326.92 L460 326.50 L460.28 326.89 L461.14 328.19 L462.01 328.46 L462.50 328.75 L462.87 328.80 L463.74 329.94 L464.60 331.84 L465 333.12 L465.47 333.36 L466.33 334.24 L467.20 334.48 L467.50 335.62 L468.06 334.07 L468.93 333.34 L469.38 333.12 L469.79 332.53 L470.66 333.36 L471.52 333.27 L472.38 332.71 L473.12 332.25 L473.25 332.58 L474.11 332.01 L474.98 331.45 L475.84 330.70 L476.71 330.48 L477.50 329.75 L477.57 329.73 L478.44 329.74 L479.30 330.79 L480.17 331.55 L481.03 332.53 L481.90 333.02 L482.50 332.75 L482.76 332.48 L483.63 331.64 L484.49 330.29 L485.36 329.71 L486.22 329.14 L486.25 328.75 L487.09 329.69 L487.95 330.40 L488.75 331.25 L488.81 330.73 L489.68 332.59 L490.54 334.57 L491.25 336 L491.41 336.08 L492.27 335.91 L493.14 336.40 L494 336.51 L494.87 335.34 L495 335.62 L495.73 334.99 L496.60 335.42 L497.46 335.15 L498.33 334.12 L499.19 333.60 L500.06 333.79 L500.62 333.50 L500.92 334.28 L501.79 334.18 L502.65 334.51 L503.51 334.86 L504.38 335.38 L505 335.25 L505.24 335.59 L506.11 333.92 L506.97 333.21 L507.84 332.88 L508.70 332.49 L508.75 332.25 L509.57 333.16 L510.43 333.52 L510.62 333.12 L511.30 333.77 L512.16 334.62 L513.03 335.80 L513.12 336 L513.89 334.85 L514.76 333.63 L515.62 332.16 L515.62 332.50 L516.49 331.19 L517.35 329.46 L518.21 326.30 L519.08 324.42 L519.94 323.45 L520 323.12 L520.81 323.39 L521.67 322.58 L522.50 322.50 L522.54 322.61 L523.40 325.09 L524.27 325.91 L525.13 326.81 L525.62 328.12 L526 328.82 L526.86 330.29 L527.73 331.28 L528.59 332.31 L529.46 333 L530 333.75 L530.32 333.83 L531.19 333.82 L532.05 332.70 L532.50 333.50 L532.91 332.68 L533.78 332.71 L534.64 331.82 L535 331.88 L535.51 331.55 L536.37 332.16 L537.24 332.40 L537.50 332.50 L538.10 331.32 L538.97 330.47 L539.83 329.63 L540.62 328.12 L540.70 327.90 L541.56 326.55 L542.43 325.47 L543.12 324.75 L543.29 324.96 L544.16 327.19 L545.02 329.23 L545.62 330 L545.89 329.85 L546.75 328.61 L547.62 327.46 L548.48 326.59 L548.75 326.25 L549.34 324.50 L550.21 321.15 L551.07 318.15 L551.25 317.50 L551.94 316.58 L552.80 315.53 L553.67 315.43 L554.53 315.47 L555 314.75 L555.40 315.29 L556.26 315.74 L557.13 317 L557.50 316.88 L557.99 318.42 L558.86 320.66 L559.72 323.17 L560.59 326.14 L561.45 328.83 L561.88 329.38 L562.32 329.66 L563.18 329.42 L563.75 329.38 L564.04 329.64 L564.91 330.83 L565.77 332.27 L566.64 333.19 L566.88 333.50 L567.50 333.79 L568.37 334.33 L568.75 333.75 L569.23 332.60 L570.10 329.88 L570.96 327.31 L571.83 325.10 L572.69 322.54 L573.12 321.25 L573.56 320.98 L574.42 319.79 L575.29 318.05 L575.62 319 L576.15 318.71 L577.02 319.66 L577.88 320.16 L578.74 320.74 L578.75 321 L579.61 321.32 L580.47 323.34 L581.34 324.90 L582.20 325.12 L583.07 325.38 L583.75 326.25 L583.93 326.53 L584.80 326.75 L585.66 327.63 L586.53 328.83 L587.39 328.85 L587.50 329.38 L588.26 329.90 L589.12 330.83 L589.99 331.46 L590.85 332.77 L591.25 333.12 L591.72 333.37 L592.58 332.88 L593.44 333.01 L593.75 333.12 L594.31 330.06 L595 325.62 L595.17 325.90 L596.04 324.94 L596.90 323.79 L597.77 323.52 L598.12 323.12 L598.63 323.25 L599.50 322.89 L600 322.50 L600.36 326.68 L600.62 330 L601.23 330.76 L602.09 333.41 L602.96 335.98 L603.12 336.25 L603.82 337.14 L604.69 338.17 L605.55 339.17 L606.25 339 L606.42 339.27 L607.28 338.62 L608.15 338.73 L609.01 338.56 L609.38 338.12 L609.87 337.81 L610.74 337.62 L611.60 337.24 L611.88 336 L612.47 336.28 L613.33 336.33 L614.20 337.36 L614.38 337.75 L615.06 338.51 L615.93 338.49 L616.79 338.48 L617.25 339 L617.66 338.29 L618.52 335.90 L619.38 334 L619.39 334.06 L620.25 333.83 L621.12 332.81 L621.88 333.12 L621.98 332.37 L622.85 333.82 L623.71 334.57 L623.75 334.38 L624.57 336.78 L625.44 339.29 L626.25 341 L626.30 340.50 L627.17 339.69 L628.03 340.06 L628.90 340.74 L629.38 340 L629.76 340.34 L630.63 339.55 L631.49 339.28 L631.88 339.38 L632.36 339.56 L633.22 340.20 L634.09 340.65 L634.38 341 L634.95 340.62 L635.82 340.43 L636.50 340.62 L636.68 339.54 L637.55 335.33 L638.12 333.12 L638.41 331.15 L639.27 327.13 L640 323.12 L640.14 323.22 L641 321.72 L641.87 320.99 L641.88 321 L642.73 324.21 L643.60 325.82 L643.75 326.25 L644.46 328.10 L645.33 331.27 L646 332.50 L646.19 332.89 L647.06 333.31 L647.92 334.98 L648.12 335.62 L648.79 337.21 L649.65 338.58 L650.52 339.87 L650.62 339.38 L651.38 341.54 L652.25 342.87 L652.25 342.50 L653.11 341.77 L653.97 341.05 L654 340.25 L654.84 341.61 L655.62 341.88 L655.70 341.58 L656.57 341.24 L657.43 340.70 L657.50 340 L658.30 338.58 L659.16 337.74 L659.38 337.50 L660.03 338.75 L660.89 339.25 L661.76 339.62 L661.88 339.38 L662.62 341.47 L663.49 342.81 L664 343.75 L664.35 342.43 L665.22 339.88 L665.62 338.75 L666.08 338.06 L666.95 336.71 L667.81 335.68 L668.12 334.38 L668.68 334.93 L669.54 333.33 L670 333.12 L670.40 332.67 L671.27 333.93 L672.13 335.31 L672.50 334.38 L673 335.13 L673.86 334.72 L674.73 335.01 L674.75 334.75 L675.59 333.23 L676.46 330.18 L676.50 331.25 L677.32 328.89 L678.19 328.94 L678.50 329 L679.05 329.38 L679.92 329.99 L680 329.75 L680.78 332.61 L681.65 334.87 L681.88 335.62 L682.51 336.02 L683.38 337.43 L684.24 339.06 L685 340 L685.10 339.51 L685.97 337.05 L686.83 335.85 L687.50 334.38 L687.70 334 L688.56 331.44 L689.43 328.65 L689.75 328.12 L690.29 327.82 L691.16 328.74 L691.50 328.12 L692.02 329.84 L692.89 331.25 L693.12 331.25 L693.75 332.03 L694.62 332.66 L694.75 332.50 L695.48 335.76 L696 337.50 L696.35 338.35 L697.21 338.56 L698.08 337.78 L698.12 337.25 L698.94 336.70 L699.80 335.99 L700.62 335.25 L700.67 334.92 L701.53 334.07 L702.40 333.30 L702.50 333.12 L703.26 333.75 L704.13 334.22 L704.99 334.41 L705 334.38 L705.86 335.49 L706.72 336.05 L707.25 336.50 L707.59 335.79 L708.45 333.70 L708.75 333.12 L709.32 332.61 L710.18 332.22 L711.05 331.31 L711.25 331.88 L711.91 331.31 L712.78 331.13 L713.12 331.25 L713.64 330.88 L714.50 331.42 L714.75 332.50 L715.37 329.72 L716.23 327.25 L716.25 327.50 L717.10 326.33 L717.75 326.25 L717.96 324.18 L718.83 319.71 L719.38 316.88 L719.69 316.04 L720.56 312.27 L720.62 311.88 L721.42 311.94 L722.29 312.86 L723.12 312.75 L723.15 313.32 L724.02 317.25 L724.75 320 L724.88 321.08 L725.75 323.14 L726.50 325.62 L726.61 325.69 L727.48 325.27 L728.34 324.78 L729.21 323.89 L729.38 322.75 L730.07 324.32 L730.93 325.61 L731.25 325.25 L731.80 325.95 L732.66 326.24 L733.53 326.97 L734.38 327.50 L734.39 327.90 L735.26 328.60 L736.12 329.34 L736.88 330.25 L736.99 330.49 L737.85 331.93 L738.72 333.98 L739 334 L739.58 335.26 L740.45 334.73 L740.62 335 L741.31 334.25 L742.18 334.22 L742.50 333.75 L743.04 332.60 L743.91 330.06 L744.75 327.50 L744.77 327.22 L745.63 325.64 L746.50 323.76 L746.88 323.50 L747.36 322.90 L748.23 323.40 L749 322.75 L749.09 323.60 L749.96 324.66 L750.82 325.40 L751.25 325.62 L751.69 326.44 L752.55 328.15 L753.42 330.59 L753.50 331.25 L754.28 333.75 L755.15 336.16 L755.62 336.25 L756.01 337.31 L756.88 338.06 L757.74 338.74 L758.50 338.75 L758.61 339.21 L759.47 340.62 L760.33 341.55 L761.20 342.28 L761.25 343.12 L762.06 342.96 L762.93 343.40 L763.75 344.75 L763.79 344.25 L764.66 342.97 L765.52 341.06 L766.25 339.38 L766.39 339.21 L767.25 338.39 L768.12 337.46 L768.75 337.25 L768.98 337.57 L769.85 338.46 L770.62 337.75 L770.71 338.27 L771.58 338.07 L772.44 337.47 L773.12 336.88 L773.31 336.88 L774.17 336.47 L775.03 335.68 L775.90 335.13 L776.25 334.75 L776.76 335 L777.63 334.49 L778.49 334.84 L779.36 334.92 L779.38 334.75 L780.22 334.58 L781.09 334.86 L781.95 334.68 L782.50 335 L782.82 333.93 L783.68 331.97 L784.55 330.15 L785 329.38 L785.41 329.22 L786.28 328.83 L786.50 328.12 L787.14 328.99 L788.01 330.55 L788.75 330.62 L788.87 331.66 L789.74 332.49 L790.60 334.14 L791.46 335.75 L791.88 336.25 L792.33 335.08 L793.19 332.83 L794.06 330.83 L794.38 330.62 L794.92 329.03 L795.79 327.43 L796.65 325.72 L796.88 325 L797.52 324.70 L798.38 324.04 L798.75 323.50 L799.25 323.87 L800 323.75 L800.11 324.57 L800.98 325.62 L801.84 326.22 L802.50 326.88 L802.71 326.88 L803.57 327.22 L804.44 328.71 L804.75 328.12 L805.30 326.26 L806.16 322.86 L806.88 320.62 L807.03 321.24 L807.89 321.79 L808.75 322.75 L808.76 323.01 L809.62 324.17 L810.49 324.98 L811 326.25 L811.35 326.99 L812.22 330 L813.08 332.20 L813.12 332.25 L813.95 330.26 L814.81 328.69 L815.62 326.88 L815.68 326.82 L816.54 326.07 L817.41 324.61 L818.12 323.75 L818.27 323.16 L819.14 322.88 L820 322.84 L820 322.75 L820.86 324.42 L821.73 325.10 L822.25 325 L822.59 325.68 L823.46 326.73 L824.32 327.51 L824.38 327.50 L825.19 329.26 L826.05 331.03 L826.50 332.50 L826.92 333.21 L827.78 334.26 L828.65 334.34 L829.38 335 L829.51 335.02 L830.38 334.59 L831.24 334.01 L831.88 334 L832.11 333.48 L832.97 332.31 L833.12 331.88 L833.84 332.18 L834.70 332.69 L835 332.50 L835.56 331.72 L836.43 330.42 L836.88 330.25 L837.29 331.16 L838.16 332.03 L839 332.50 L839.02 332.26 L839.89 333.23 L840.75 334.28 L841.62 335.28 L841.88 335.62 L842.48 336.27 L843.35 336.77 L844.21 336.30 L844.38 336 L845.08 335.05 L845.94 334.32 L846.81 333.78 L847.50 333.12 L847.67 333.38 L848.54 331.67 L849.40 330.63 L850 330 L850.26 330.80 L851.13 329.52 L851.99 328.74 L852.50 329 L852.86 328.65 L853.72 327.72 L854.59 326.97 L855 326.88 L855.45 326.89 L856.32 327.14 L857.18 326.75 L857.25 326.50 L858.05 328.52 L858.75 330 L858.91 331.07 L859.78 332.43 L860.62 333.75 L860.64 333.39 L861.51 334.60 L862.37 336.16 L862.50 337.25 L863.24 335.63 L864.10 333.73 L864.38 333.75 L864.97 333.08 L865.83 332.87 L866 332.50 L866.69 330.31 L867.50 328.12 L867.56 327.60 L868.42 327.17 L869.29 326.68 L870 326.25 L870.15 326.21 L871.02 325.40 L871.88 324.53 L872.50 324.38 L872.75 324.07 L873.61 323.73 L874.48 323.21 L875 322.75 L875.34 323.05 L876.21 323.60 L877.07 323.64 L877.25 324 L877.94 323.70 L878.75 323.50 L878.80 323.80 L879.67 324.49 L880.25 324.75 L880.53 324.52 L881.39 323.58 L881.88 322.50 L882.26 323.18 L883.12 323.31 L883.50 324.38 L883.99 324.92 L884.85 327.62 L885 327.75 L885.72 327.45 L886.58 327 L887.45 327.47 L887.50 327.25 L888.31 326.89 L889.18 326.13 L889.38 326.25 L890.04 326.55 L890.91 327.31 L891 327.50 L891.77 329.43 L892.50 331 L892.64 330.18 L893.50 327.03 L894 326.25 L894.37 325.75 L895.23 325.25 L895.62 323.75 L896.09 323.48 L896.96 321.81 L897.50 320.62 L897.82 321.54 L898.69 323.07 L899 324.38 L899.55 324.94 L900.25 326.50 L900.42 326.89 L901.28 326.06 L902.15 324.20 L902.50 323.75 L903.01 323.07 L903.88 322.07 L904.74 320.27 L905.25 319 L905.61 319.01 L906.47 319.02 L907.34 319.74 L907.50 320 L908.20 320.14 L909.07 320.65 L909.93 321.01 L910 321.25 L910.79 321.58 L911.66 323.62 L912.50 324.38 L912.52 324.91 L913.39 324.59 L914.25 325.17 L914.38 325.62 L915.12 325.32 L915.98 325.01 L916.85 324.19 L917.50 323.75 L917.71 324.05 L918.58 325.69 L919.38 326.25 L919.44 326.56 L920.31 326.76 L921.17 327.83 L921.88 329.38 L922.04 329.02 L922.90 329.62 L923.75 330.62 L923.77 330.69 L924.63 328.45 L925.50 326.94 L925.62 327.50 L926.36 326.23 L927.22 324.35 L927.50 322.50 L928.09 321.96 L928.95 318.95 L929.38 318.12 L929.82 317.87 L930.68 318.49 L931 318.50 L931.55 319.99 L932.41 322 L932.75 323.75 L933.28 325.17 L934.14 328.95 L934.75 330.62 L935.01 330.40 L935.87 330.07 L936.74 328.84 L937.50 327.50 L937.60 327.26 L938.47 326.47 L939.33 325.20 L940.20 324.73 L940.62 324.38 L941.06 323.35 L941.92 322.26 L942.79 321.14 L943.12 321.25 L943.65 320.05 L944.52 319.46 L945 318.50 L945.38 319.40 L946.25 320.15 L946.88 320.62 L947.11 320.94 L947.98 321.99 L948.84 323.15 L949 323.75 L949.71 323.59 L950.57 323.44 L951.25 323.50 L951.44 323.21 L952.30 322.38 L953.12 322.50 L953.17 322.10 L954.03 321.27 L954.90 319.64 L955 320 L955.76 319.38 L956.62 319.85 L957.49 319.25 L957.50 319 L958.35 318.92 L959.22 319.77 L959.75 320.25 L960.08 320.55 L960.95 320.91 L961.81 321.31 L961.88 321.25 L962.68 322.61 L963.54 324.14 L964.38 324.38 L964.41 324.31 L965.27 324.71 L966.14 326.27 L966.88 327.50 L967 327.92 L967.87 327.98 L968.73 327.95 L969.38 327.50 L969.60 328.44 L970.46 329.59 L971.25 330.62 L971.32 330.34 L972.19 331.45 L973.05 333.05 L973.12 333.12 L973.92 333.82 L974.75 335 L974.78 334.54 L975.65 332.28 L976.51 330.45 L976.88 330 L977.38 329.60 L978.24 328.29 L979.11 326.42 L979.38 326.25 L979.97 325.50 L980.84 324.75 L981.70 324.09 L981.88 324.38 L982.57 324.76 L983.43 325.43 L984.30 325.87 L984.38 325.62 L985.16 327.63 L986.03 329.55 L986.25 330 L986.89 330.83 L987.75 332.65 L988.12 333.12 L988.62 333.51 L989.48 333.42 L990 334 L990.35 333.51 L991.21 331.27 L991.88 330.62 L992.08 330.15 L992.94 330.44 L993.81 329.55 L994.67 329.34 L995 329.38 L995.54 330.08 L996.40 330.97 L997.27 332.15 L997.50 331.88 L998.13 332.37 L999 332.03 L999.86 331.79 L1000 332.50 L1000.73 331.15 L1001.59 330.98 L1001.88 330 L1002.45 331.09 L1003.32 330.94 L1004.18 331.10 L1004.38 331.88 L1005.05 332.11 L1005.91 333.76 L1006.78 335.61 L1006.88 335 L1007.64 334.20 L1008.51 332.32 L1009.37 330.99 L1009.38 331.25 L1010.24 330.46 L1011.10 330.42 L1011.97 330.52 L1012.50 330.25 L1012.83 331.01 L1013.70 331.46 L1014.56 331.49 L1015.43 332.60 L1015.62 332.25 L1016.29 332.91 L1017.15 332.51 L1018.02 333.05 L1018.75 333.12 L1018.88 333.62 L1019.75 332.23 L1020.61 330.58 L1020.62 330.62 L1021.48 329.05 L1022.25 328.12 L1022.34 327.69 L1023.21 326.75 L1023.75 326.88 L1024.07 325.78 L1024.94 323.61 L1025.62 321.25 L1025.80 320.95 L1026.67 317.20 L1027.25 313.75 L1027.53 313.73 L1028.40 311.57 L1028.75 311.50 L1029.26 311.87 L1030.13 313.48 L1030.25 313.12 L1030.99 317.48 L1031.85 322.37 L1031.88 322.50 L1032.72 325.58 L1033.58 328.51 L1034 329.38 L1034.45 329.14 L1035.31 328.35 L1036.18 326.95 L1036.25 327.25 L1037.04 325.47 L1037.91 325.45 L1038.75 324.75 L1038.77 324.91 L1039.64 325.14 L1040.50 325.39 L1040.62 325 L1041.37 324.52 L1042.23 323.86 L1043.10 323 L1043.12 323.12 L1043.96 323.58 L1044.75 324 L1044.83 324.52 L1045.69 323.65 L1046.50 322.25 L1046.56 322.73 L1047.42 321.17 L1048.28 320.03 L1048.50 320 L1049.15 321.20 L1050.01 322.79 L1050.62 323.12 L1050.88 323.62 L1051.74 324.30 L1052.61 325.32 L1053.47 326.05 L1053.50 326 L1054.34 324.32 L1055 322.75 L1055.20 322.62 L1056.07 322.29 L1056.50 322.25 L1056.93 323.38 L1057.80 325.97 L1058.12 326.88 L1058.66 326.75 L1059.53 326.79 L1060.39 327.11 L1060.62 327.75 L1061.26 327.59 L1062.12 328.04 L1062.98 328.02 L1063.75 328.12 L1063.85 327.70 L1064.71 326.75 L1065 326.88 L1065.58 326.89 L1066.44 327.02 L1067.25 326.88 L1067.31 327.06 L1068.17 325.57 L1069.04 323.53 L1069.38 322.25 L1069.90 322.60 L1070.77 321.46 L1071.50 319.75 L1071.63 320.33 L1072.50 320.68 L1073.36 320.82 L1073.75 322.25 L1074.23 322.49 L1075.09 323.62 L1075.96 324.61 L1076.25 325 L1076.82 324.19 L1077.68 322.38 L1078.55 321.54 L1078.75 321.25 L1079.41 320.92 L1080.28 319.71 L1081.14 318.66 L1081.25 318.75 L1082.01 317.20 L1082.87 315.87 L1083.12 315.25 L1083.74 315.43 L1084.60 315.49 L1085.47 316.14 L1085.62 316.50 L1086.33 318.92 L1086.88 321.25 L1087.20 321.66 L1088.06 324.54 L1088.12 325 L1088.93 320.77 L1089.79 316.40 L1090 315 L1090.66 313.07 L1091.52 310.34 L1092.38 306.98 L1092.50 306.25 L1093.25 302.68 L1094.11 299 L1094.38 298.75 L1094.98 293.04 L1095 293.75 L1095.84 287.69 L1096.71 282.30 L1097.50 277.50 L1097.57 276.64 L1098.44 274.28 L1099.30 272.06 L1099.38 271.50 L1100.17 272.72 L1101.03 273.75 L1101.25 275 L1101.90 278.29 L1102.76 283.06 L1103.12 285 L1103.63 286.47 L1104.49 289.62 L1105.36 293.02 L1105.62 294.38 L1106.22 293.55 L1107.09 293.13 L1107.50 293.12 L1107.95 293.45 L1108.81 292.53 L1109.38 292.50 L1109.68 291.89 L1110.54 291.13 L1110.62 290.62 L1111.41 291.54 L1111.88 291.88 L1112.27 291.23 L1113.14 288.67 L1114 285.51 L1114.38 285 L1114.87 284.40 L1115.73 283.91 L1116.25 283.75 L1116.60 283.88 L1117.46 284.92 L1117.75 285 L1118.33 286.96 L1118.75 288.75 L1119.19 289.17 L1120.06 290.26 L1120.62 290.62 L1120.92 289.29 L1121.79 286.27 L1122.50 283.75 L1122.65 283.17 L1123.51 280.95 L1124.38 278.75 L1124.38 279 L1125.24 277.79 L1126.11 276.98 L1126.88 276 L1126.97 277.15 L1127.84 280.09 L1128.50 282.50 L1128.70 283.12 L1129.57 285.62 L1130.43 287.50 L1130.62 287.50 L1131.30 291.95 L1131.88 295 L1132.16 295.83 L1133.03 297.88 L1133.12 298.12 L1133.89 295.60 L1134.75 293.12 L1134.76 293.25 L1135.62 285.85 L1136.49 279.10 L1136.50 278.75 L1137.35 271.66 L1138.12 263.75 L1138.21 263.43 L1139.08 258.67 L1139.94 254.21 L1140 253.50 L1140.81 258.35 L1141.25 260.62 L1141.67 263.63 L1142.54 269.33 L1143.12 272.50 L1143.40 273.76 L1144.27 277.14 L1145.13 281.23 L1145.25 281.25 L1146 280.04 L1146.86 277.82 L1147.50 277.50 L1147.73 276.87 L1148.59 275.74 L1149.38 275 L1149.46 274.59 L1150.32 270.82 L1151.19 266.67 L1151.88 263.75 L1152.05 262.88 L1152.91 259.07 L1153.75 256.25 L1153.78 255.81 L1154.64 260.34 L1155.25 263.75 L1155.51 265.50 L1156.37 271.47 L1156.88 273.75 L1157.24 276.67 L1158.10 281.14 L1158.12 281.25 L1158.97 288.39 L1159.38 292.50 L1159.83 293.03 L1160.70 294.96 L1161 296.88 L1161.56 295.88 L1162.43 295.49 L1163.12 295.62 L1163.29 294.23 L1164.16 289.81 L1164.75 286.25 L1165.02 284.60 L1165.89 278.38 L1166.25 276.25 L1166.75 274.36 L1167.62 271.96 L1168.48 269.12 L1168.50 269 L1169.34 272.11 L1170 275 L1170.21 275.25 L1171.07 279.06 L1171.88 282.50 L1171.94 283.09 L1172.80 285.46 L1173.50 287.50 L1173.67 286.99 L1174.53 285.78 L1174.75 285.62 L1175.40 287.29 L1176.25 290 L1176.26 289.96 L1177.13 294.28 L1177.99 297.67 L1178.12 298.75 L1178.86 300.66 L1179.72 304.94 L1180 306.25 L1180.59 306.90 L1181.45 307.27 L1182.32 307.81 L1182.50 308.12 L1183.18 307.78 L1184.04 307.25 L1184.38 306.88 L1184.91 305.29 L1185.62 302.50 L1185.77 303.04 L1186.64 302.58 L1187.50 303.12 L1187.50 303.07 L1188.37 302.06 L1189.23 300.58 L1190 299.38 L1190.10 298.93 L1190.96 297.23 L1191.83 296.86 L1192.50 295.62 L1192.69 295.74 L1193.56 292.65 L1194.38 290 L1194.42 290.21 L1195.29 285.14 L1196.15 280.05 L1196.25 279.38 L1197.02 278.23 L1197.75 276.88 L1197.88 277.46 L1198.74 283.89 L1199 286.25 L1199.61 290.90 L1200.47 297.49 L1200.62 298.75 L1201.34 300.70 L1202.20 303.16 L1202.50 303.75 L1203.07 302.51 L1203.75 301.25 L1203.93 300.28 L1204.80 297.12 L1205.62 294.38 L1205.66 294.51 L1206.53 296.83 L1206.88 298.12 L1207.39 300.26 L1208.26 304.31 L1208.75 305.62 L1209.12 308.15 L1209.99 312.20 L1210.62 315 L1210.85 314.90 L1211.72 315.18 L1212.50 315 L1212.58 315.02 L1213.44 313.81 L1214.31 312.48 L1215 311.88 L1215.17 311.42 L1216.04 311.65 L1216.90 310.96 L1217.25 311 L1217.77 312.09 L1218.63 314.44 L1218.75 314.38 L1219.50 315.20 L1220.36 316.29 L1221.23 316.79 L1221.25 317.25 L1222.09 317.54 L1222.96 318.89 L1223.12 319 L1223.82 318.28 L1224.69 317.60 L1225 317.25 L1225.55 318.38 L1226.42 319.12 L1227.25 318.75 L1227.28 319.18 L1228.15 320.08 L1229.01 321.21 L1229.87 322.45 L1230 321.88 L1230.74 322.87 L1231.60 323.55 L1232.25 324.75 L1232.47 324.24 L1233.33 324.97 L1233.75 324.38 L1234.20 326.01 L1235.06 326.49 L1235.93 327.89 L1236.25 328.12 L1236.79 328.67 L1237.66 327.89 L1238.52 327.47 L1238.75 326.88 L1239.39 326.48 L1240.25 323.75 L1240.62 323.12 L1241.12 321.16 L1241.98 317.95 L1242.25 316.25 L1242.85 315.57 L1243.71 314.82 L1244 314.38 L1244.57 313.43 L1245.44 311.38 L1245.62 310.62 L1246.30 310.15 L1247.17 310.21 L1248.03 311.09 L1248.12 310.62 L1248.90 312.59 L1249.38 313.75 L1249.76 314.75 L1250.62 318.12 L1250.63 317.93 L1251.49 318.39 L1252.36 318.63 L1253.12 318.75 L1253.22 318.65 L1254.09 318.96 L1254.95 319.21 L1255.62 319.38 L1255.82 319.06 L1256.68 320.56 L1257.55 322.16 L1258.12 321.88 L1258.41 322.55 L1259.27 323.65 L1260 324.75 L1260.14 324.94 L1261 325.72 L1261.50 327.25 L1261.87 326.61 L1262.73 326.24 L1263.50 324.75 L1263.60 325.13 L1264.46 322.63 L1265 320.62 L1265.33 319.70 L1266.19 316.84 L1266.88 314 L1267.06 314.32 L1267.92 313.83 L1268.79 313.44 L1269.38 313.50 L1269.65 313.64 L1270.52 314.41 L1271.38 315.32 L1271.88 316 L1272.25 316.01 L1273.11 316.26 L1273.97 315.20 L1274.38 314.38 L1274.84 313.73 L1275.70 314.16 L1276.57 313.83 L1277.43 312.51 L1277.50 312.75 L1278.30 312.42 L1279.16 312.16 L1280 312.25 L1280.03 311.69 L1280.89 311.55 L1281.76 310.27 L1281.88 310 L1282.62 309.78 L1283.49 311.16 L1284.35 312.07 L1284.38 311 L1285.22 312.50 L1286.08 312.64 L1286.95 312.06 L1287.50 311.88 L1287.81 311.96 L1288.68 312.46 L1289.54 313.27 L1290.40 313.90 L1291.25 314.38 L1291.27 314.03 L1292.13 312.47 L1293 312.06 L1293.75 310.62 L1293.86 310.85 L1294.73 309.81 L1295.59 309.34 L1296 309 L1296.46 309.39 L1297.32 310.65 L1298.19 311.09 L1298.75 311.25 L1299.05 311.39 L1299.92 311.71 L1300.78 311.36 L1301.65 311.61 L1301.88 311.25 L1302.51 311.84 L1303.38 311.33 L1304.24 311.60 L1304.38 311.88 L1305.10 311.15 L1305.97 310.60 L1306.83 311 L1307.50 310 L1307.70 310.95 L1308.56 309.89 L1309.43 308.11 L1310.25 307.25 L1310.29 307.05 L1311.16 308.55 L1312.02 308.93 L1312.89 309.07 L1313.12 308.50 L1313.75 309.72 L1314.62 310.13 L1315.48 310.76 L1315.62 311 L1316.35 309.80 L1317.21 308.62 L1317.50 307.75 L1318.08 307.78 L1318.94 306.14 L1319.80 304.24 L1320 305 L1320.67 305.01 L1321.53 306.58 L1322.25 307.50 L1322.40 307.05 L1323.26 307.15 L1324.13 308.24 L1324.38 307.50 L1324.99 306.56 L1325.86 304.81 L1326 304.38 L1326.72 305.98 L1327.59 307.28 L1328.45 308.54 L1328.75 308.12 L1329.32 309.44 L1330.18 311.59 L1331 314.38 L1331.05 314.45 L1331.91 315.49 L1332.78 316.96 L1333.64 317.81 L1333.75 317.50 L1334.50 318.17 L1335.37 318.60 L1336.23 318.46 L1337.10 319.15 L1337.50 319 L1337.96 318.80 L1338.83 317.74 L1339.69 317.57 L1340 317.50 L1340.56 317.36 L1341.42 316.20 L1342.25 315 L1342.29 314.81 L1343.15 315.44 L1344.02 315.57 L1344.88 316 L1345 316.25 L1345.75 316.45 L1346.61 316.81 L1347.48 317.47 L1347.50 317.75 L1348.34 317.61 L1349.21 317.25 L1350.07 316.16 L1350.62 316.25 L1350.93 316.03 L1351.80 315.75 L1352.66 315.74 L1353.53 315.91 L1354.38 315 L1354.39 314.89 L1355.26 314.52 L1356.12 315.19 L1356.99 314.74 L1357.85 314.86 L1358.12 315 L1358.72 315.14 L1359.58 314.77 L1360.45 315.04 L1361.31 315.02 L1361.88 313.75 L1362.18 313.87 L1363.04 312.48 L1363.91 311.97 L1364.77 310.70 L1365 310 L1365.63 309.93 L1366.50 308.78 L1367.36 306.51 L1368.12 305.62 L1368.23 304.81 L1369.09 302.37 L1369.96 300.21 L1370.62 298.75 L1370.82 298.18 L1371.69 297.34 L1372.50 296.50 L1372.55 296.58 L1373.42 297.14 L1374.28 297.51 L1374.38 297.50 L1375.15 299.82 L1376 302.50 L1376.01 302.46 L1376.88 303.78 L1377.74 305.05 L1378.12 306.25 L1378.61 306.33 L1379.47 307.52 L1380.33 307.90 L1381.20 308.52 L1381.25 308.75 L1382.06 308.46 L1382.93 308.11 L1383.79 307.72 L1384.38 308.12 L1384.66 307.70 L1385.52 307.89 L1386.39 307.05 L1387.25 306.04 L1388.12 306.21 L1388.75 306.25 L1388.98 306.19 L1389.85 306.49 L1390.71 307.46 L1391.58 308.11 L1391.88 308.50 L1392.44 308.36 L1393.31 308.29 L1394.17 307.87 L1394.50 307.75 L1395.03 306.69 L1395.90 305 L1396 304.75 L1396.76 305.13 L1397.25 305 L1397.63 306.11 L1398.49 307.20 L1398.75 307.25 L1399.36 306.97 L1400 306.25 L1400.22 307.34 L1401.09 308.18 L1401.50 308.75 L1401.95 308.57 L1402.82 309.05 L1403 309 L1403.68 310.48 L1404.55 312.05 L1405 312.25 L1405.41 310.98 L1406.28 308.37 L1407 307.25 L1407.14 306.78 L1408.01 306.75 L1408.75 305.50 L1408.87 305.89 L1409.74 304.31 L1410.25 303.75 L1410.60 303.91 L1411.25 305 L1411.46 305.04 L1412.33 307.60 L1413 309 L1413.19 309.55 L1414.06 310.54 L1414.92 311.97 L1415 311.50 L1415.79 312.28 L1416.65 313.32 L1417.25 313.50 L1417.52 313.51 L1418.38 311.82 L1419.25 311.68 L1419.25 312.25 L1420.11 312.66 L1420.98 312.52 L1421.84 312.63 L1422 312.75 L1422.71 313.37 L1423.57 313.60 L1424.44 314.10 L1424.50 314.25 L1425.30 314.09 L1426.16 314.30 L1427.03 315.14 L1427.50 315 L1427.89 315.28 L1428.76 315.05 L1429.62 315.06 L1430.49 314.94 L1430.50 314.60 L1431.35 314.57 L1432.22 314.23 L1433.08 314 L1433.50 314 L1433.95 313.81 L1434.81 314.80 L1435.68 315.35 L1436 315.25 L1436.54 314.56 L1437.41 313.51 L1438 312.50 L1438.27 311.58 L1439.14 310.96 L1440 309.83 L1440 310.25"/>
<path stroke="#808080" stroke-linecap="butt" stroke-dasharray="7.708 3.333" d="M200 239L1440 239"/>
</g>
<rect x="200.5" y="65.5" width="1240" height="416" fill="none" stroke="#000" stroke-width="1.111" stroke-linejoin="miter"/>
<text class="t m" x="820.00" y="56.30">Powerline Noise vs Noise Floor (6 point moving avg), 2024-05-29 (America/Los_Angeles Timezone)</text>
<rect x="207.5" y="72.5" width="150" height="67" rx="2.78" ry="2.78" fill="#fff" fill-opacity="0.8" stroke="#ccc" stroke-opacity="0.8" stroke-width="1.389"/>
<g fill="none" stroke-width="2.083">
<path stroke="#f00" stroke-linecap="square" d="M213 83L240 83"/>
<path stroke="#008000" stroke-linecap="square" d="M213 104L240 104"/>
<path stroke="#808080" stroke-dasharray="7.708 3.333" d="M213 125L240 125"/>
</g>
<text x="250.89" y="87.85">120pps dB</text>
<text x="250.89" y="108.90">Noise Floor dB</text>
<text x="250.89" y="130.00">-64 dB</text>
</svg>
</body>
</html>
